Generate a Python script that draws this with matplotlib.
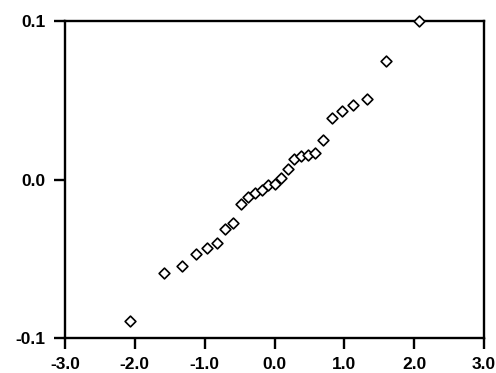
import matplotlib
matplotlib.use("Agg")
import matplotlib.pyplot as plt

x_vals = [-2.07, -1.587, -1.320, -1.120, -0.962, -0.824, -0.704, -0.590, -0.479,
          -0.384, -0.284, -0.183, -0.093, 0.007, 0.093, 0.189, 0.279, 0.375,
          0.484, 0.585, 0.698, 0.823, 0.966, 1.129, 1.320, 1.593, 2.069]
y_vals = [-0.0888, -0.0585, -0.0547, -0.0467, -0.0431, -0.0396, -0.0311, -0.0271,
          -0.0153, -0.0109, -0.0086, -0.0063, -0.0032, -0.0025, 0.0013, 0.0069,
          0.0128, 0.0153, 0.0158, 0.0168, 0.0252, 0.0391, 0.0435, 0.0473, 0.0511,
          0.0751, 0.0999]
x_ticks = [-3.0, -2.0, -1.0, 0.0, 1.0, 2.0, 3.0]
y_ticks = [-0.1, 0.0, 0.1]

plt.rcParams['font.family'] = ['Liberation Sans', 'DejaVu Sans']
fig = plt.figure(figsize=(4.96, 3.73), dpi=100)
ax = fig.add_axes([0.131, 0.093, 0.845, 0.850])
ax.scatter(x_vals, y_vals, marker='D', s=30, facecolors='white',
           edgecolors='black', linewidths=1.2, zorder=3, clip_on=False)
ax.set_xlim(-3, 3)
ax.set_ylim(-0.1, 0.1)
ax.set_xticks(x_ticks)
ax.set_xticklabels([f"{t:.1f}" for t in x_ticks])
ax.set_yticks(y_ticks)
ax.set_yticklabels([f"{t:.1f}" for t in y_ticks])
for s in ax.spines.values():
    s.set_linewidth(1.7)
ax.tick_params(direction='out', length=8, width=1.7, labelsize=12.5)
ax.tick_params(axis='x', pad=5.5)
ax.tick_params(axis='y', pad=6)
for lab in ax.get_xticklabels() + ax.get_yticklabels():
    lab.set_fontweight('bold')
fig.savefig("out.png", dpi=100)
